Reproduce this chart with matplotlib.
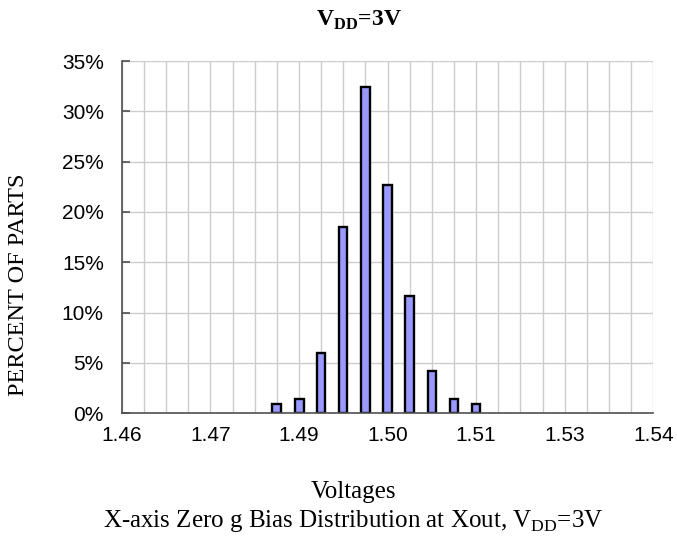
import numpy as np
import matplotlib
matplotlib.use("Agg")
import matplotlib.pyplot as plt
from matplotlib.ticker import FixedLocator, FuncFormatter

# bin centres (V) and share of parts (%)
voltages = [1.4833, 1.4867, 1.4900, 1.4933, 1.4967, 1.5000, 1.5033, 1.5067, 1.5100, 1.5133]
percent = [0.9, 1.4, 6.0, 18.5, 32.4, 22.7, 11.6, 4.2, 1.4, 0.9]

x_min, x_max = 1.46, 1.54

plt.rcParams['mathtext.fontset'] = 'custom'
plt.rcParams['mathtext.rm'] = 'Liberation Serif'
plt.rcParams['mathtext.bf'] = 'Liberation Serif:bold'

fig = plt.figure(figsize=(6.77, 5.45), dpi=100)
ax = fig.add_axes([0.180, 0.242, 0.785, 0.646])

ax.bar(voltages, percent, width=0.0013, color='#9999ff', edgecolor='black',
       linewidth=1.7, zorder=3)

ax.set_xlim(x_min, x_max)
ax.set_ylim(0, 35)
# excel style value axis: 6 major units, 4 minor per major
ax.xaxis.set_major_locator(FixedLocator(np.linspace(x_min, x_max, 7)))
ax.xaxis.set_minor_locator(FixedLocator(np.linspace(x_min, x_max, 25)))
ax.xaxis.set_major_formatter(FuncFormatter(lambda v, p: '%.2f' % v))
ax.yaxis.set_major_locator(FixedLocator(np.arange(0, 36, 5)))
ax.yaxis.set_major_formatter(FuncFormatter(lambda v, p: '%d%%' % v))

ax.grid(True, which='both', axis='x', color='#cccccc', linewidth=1, zorder=0)
ax.grid(True, which='major', axis='y', color='#cccccc', linewidth=1, zorder=0)
ax.set_axisbelow(True)

for s in ['top', 'right']:
    ax.spines[s].set_visible(False)
for s in ['left', 'bottom']:
    ax.spines[s].set_color('#505050')
    ax.spines[s].set_linewidth(1.2)
    ax.spines[s].set_zorder(4)

ax.tick_params(axis='x', which='both', length=0, pad=9, labelsize=15)
ax.tick_params(axis='y', direction='in', length=6, width=1.2, color='#505050',
               pad=13, labelsize=15)
for lab in ax.get_xticklabels() + ax.get_yticklabels():
    lab.set_family('Liberation Sans')

fig.text(0.027, 0.477, 'PERCENT OF PARTS', family='Liberation Serif', fontsize=17.5,
         rotation=90, ha='center', va='center')
fig.text(0.53, 0.963, r'$\mathbf{V}_{\mathbf{DD}}$=3V', family='Liberation Serif',
         fontweight='bold', fontsize=17, ha='center', va='center')
fig.text(0.522, 0.097, 'Voltages', family='Liberation Serif', fontsize=18,
         ha='center', va='center')
fig.text(0.522, 0.044, r'X-axis Zero g Bias Distribution at Xout, V$_{\mathrm{DD}}$=3V',
         family='Liberation Serif', fontsize=18, ha='center', va='center')

fig.savefig('out.png', dpi=100)
